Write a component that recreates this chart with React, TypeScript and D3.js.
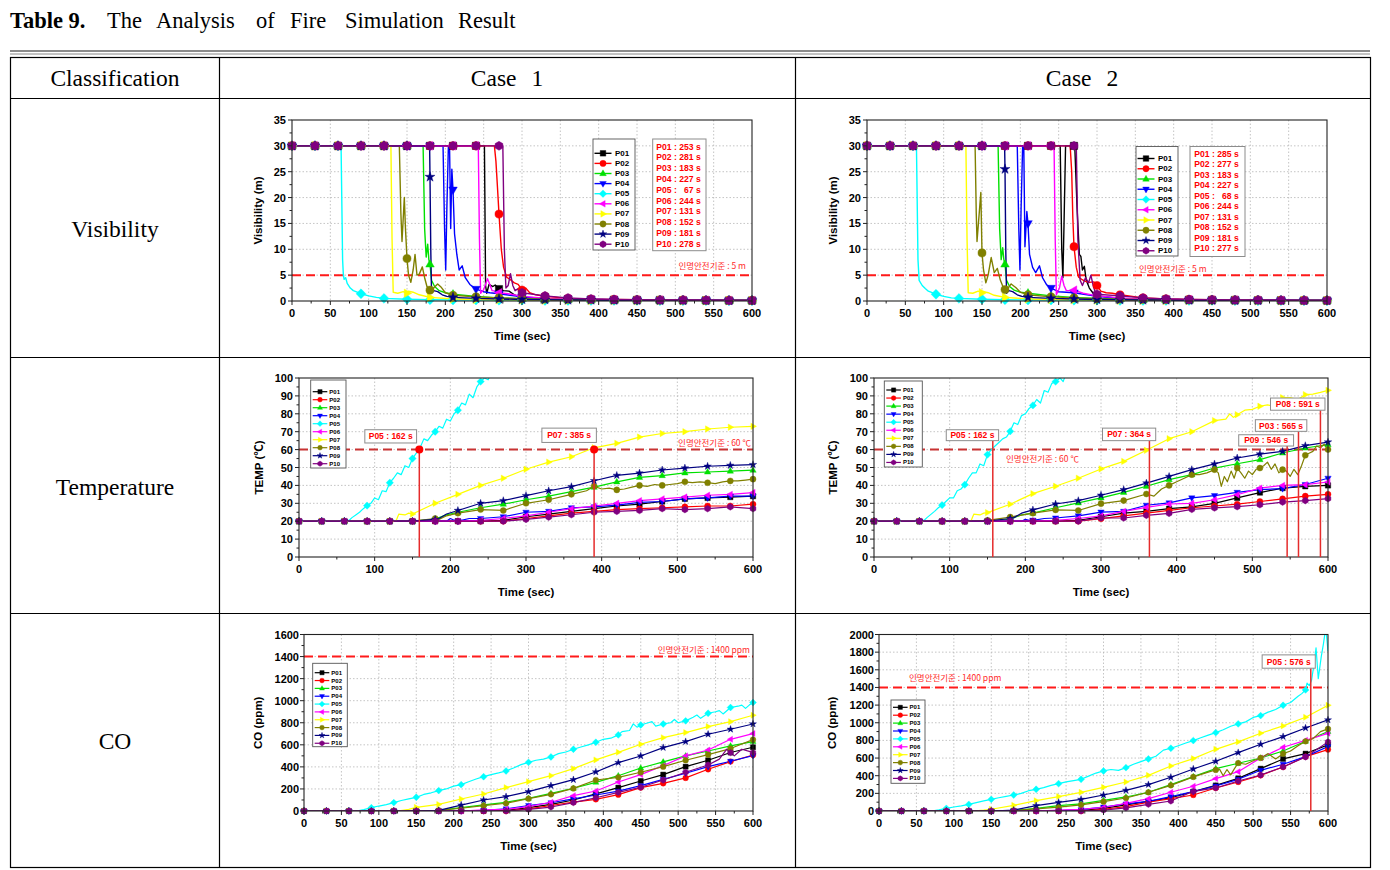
import React from 'react';
import * as d3 from 'd3';

// ---------- shared series definitions ----------
const SERIES_NAMES = ['P01', 'P02', 'P03', 'P04', 'P05', 'P06', 'P07', 'P08', 'P09', 'P10'];
const SERIES_COLORS = ['#000000', '#ff0000', '#00e000', '#0000ff', '#00ffff', '#ff00ff', '#ffff00', '#808000', '#000080', '#800080'];
const SERIES_SHAPES = ['square', 'circle', 'triUp', 'triDown', 'diamond', 'triLeft', 'triRight', 'circle', 'star', 'hexagon'];
const SAMPLE_TIMES = d3.range(0, 601, 30); // marker sample times (s)

// ---------- Visibility, Case 1 (m) : values at SAMPLE_TIMES ----------
const visCase1Base = [
  [30, 30, 30, 30, 30, 30, 30, 30, 30, 2.3, 0.7, 0.45, 0.35, 0.3, 0.25, 0.2, 0.2, 0.15, 0.15, 0.1, 0.1],
  [30, 30, 30, 30, 30, 30, 30, 30, 30, 16.8, 2.1, 0.9, 0.5, 0.35, 0.3, 0.25, 0.2, 0.2, 0.15, 0.15, 0.1],
  [30, 30, 30, 30, 30, 30, 7.1, 1.3, 0.9, 0.6, 0.45, 0.35, 0.3, 0.25, 0.2, 0.2, 0.15, 0.15, 0.1, 0.1, 0.1],
  [30, 30, 30, 30, 30, 30, 30, 21.5, 2.3, 1.4, 0.8, 0.5, 0.35, 0.3, 0.25, 0.2, 0.2, 0.15, 0.15, 0.1, 0.1],
  [30, 30, 30, 1.4, 0.5, 0.35, 0.25, 0.2, 0.2, 0.15, 0.15, 0.1, 0.1, 0.1, 0.1, 0.1, 0.05, 0.05, 0.05, 0.05, 0.05],
  [30, 30, 30, 30, 30, 30, 30, 30, 30, 1.6, 0.9, 0.55, 0.4, 0.3, 0.25, 0.2, 0.2, 0.15, 0.15, 0.1, 0.1],
  [30, 30, 30, 30, 30, 1.5, 0.7, 0.4, 0.3, 0.25, 0.2, 0.15, 0.15, 0.1, 0.1, 0.1, 0.1, 0.05, 0.05, 0.05, 0.05],
  [30, 30, 30, 30, 30, 8.2, 2.1, 1.1, 0.8, 0.6, 0.45, 0.35, 0.3, 0.25, 0.2, 0.2, 0.15, 0.15, 0.1, 0.1, 0.1],
  [30, 30, 30, 30, 30, 30, 24, 0.7, 0.5, 0.4, 0.3, 0.25, 0.2, 0.2, 0.15, 0.15, 0.1, 0.1, 0.1, 0.1, 0.1],
  [30, 30, 30, 30, 30, 30, 30, 30, 30, 30, 1.6, 1.0, 0.6, 0.4, 0.3, 0.25, 0.2, 0.2, 0.15, 0.1, 0.1],
];
// extra [time, value] readings between the marker samples
const visCase1Extra = [
  [[251, 30], [252.5, 3], [254, 1.5], [257, 3.2], [262, 2.8], [265, 3.1], [276, 2], [283, 1.9], [290, 1.2]],
  [[264, 30], [266, 27], [268, 22], [273, 10], [276, 6.5], [280, 4.6], [285, 4.1], [290, 3.5], [295, 3.2], [305, 2.5], [310, 1.6], [318, 1.2]],
  [[171, 30], [173, 14], [175, 8.5], [177, 11], [178.5, 8], [182, 4], [186, 2.8], [192, 2], [200, 1.6]],
  [[197, 30], [199, 14], [200.5, 6], [202, 18], [204, 30], [205.5, 30], [207, 14], [208.5, 25.5], [212, 13], [215, 9], [218, 6], [222, 6.8], [226, 4.5], [232, 3.2], [250, 1.8], [258, 1.6]],
  [[64, 30], [66, 8], [67, 5], [68, 4.2], [70, 4.5], [72, 3.4], [76, 2.5], [80, 2], [85, 1.7], [100, 1], [110, 0.7]],
  [[243, 30], [244.5, 12], [246, 1.5], [250, 2.2], [253, 3.5], [255, 4.3], [258, 3.2], [261, 2], [265, 1.9], [282, 1.4]],
  [[129, 30], [130.5, 12], [132, 1.7], [138, 1.5], [145, 1.8], [152, 1.9], [158, 1.7], [166, 1.2]],
  [[140, 30], [142, 17], [143.5, 11.5], [146.5, 20], [148, 14], [152, 5], [155, 3.6], [158, 6], [160.5, 9], [163, 5], [166, 5.2], [170, 6.6], [173, 4.5], [176, 2.8], [184, 2.4], [190, 3.3], [195, 2.6], [200, 1.6]],
  [[179.5, 30], [181, 10], [182, 1.6], [185, 2], [190, 1.8], [196, 1.2], [202, 0.9]],
  [[275, 30], [277, 10], [279, 2.5], [282, 3], [285, 5.3], [288, 3], [291, 2], [295, 2.4]],
];
const visCase1Result = ['P01 : 253 s', 'P02 : 281 s', 'P03 : 183 s', 'P04 : 227 s', 'P05 :   67 s', 'P06 : 244 s', 'P07 : 131 s', 'P08 : 152 s', 'P09 : 181 s', 'P10 : 278 s'];

// ---------- Visibility, Case 2 (m) ----------
const visCase2Base = [
  [30, 30, 30, 30, 30, 30, 30, 30, 30, 30, 1.0, 0.5, 0.35, 0.3, 0.25, 0.2, 0.2, 0.15, 0.15, 0.1, 0.1],
  [30, 30, 30, 30, 30, 30, 30, 30, 30, 10.5, 3.0, 1.2, 0.6, 0.4, 0.3, 0.25, 0.2, 0.2, 0.15, 0.15, 0.1],
  [30, 30, 30, 30, 30, 30, 7.1, 1.5, 1.0, 0.7, 0.5, 0.4, 0.3, 0.25, 0.2, 0.2, 0.15, 0.15, 0.1, 0.1, 0.1],
  [30, 30, 30, 30, 30, 30, 30, 15, 2.5, 1.6, 0.9, 0.5, 0.35, 0.3, 0.25, 0.2, 0.2, 0.15, 0.15, 0.1, 0.1],
  [30, 30, 30, 1.3, 0.5, 0.35, 0.25, 0.2, 0.2, 0.15, 0.15, 0.1, 0.1, 0.1, 0.1, 0.1, 0.05, 0.05, 0.05, 0.05, 0.05],
  [30, 30, 30, 30, 30, 30, 30, 30, 30, 2.1, 1.0, 0.6, 0.4, 0.3, 0.25, 0.2, 0.2, 0.15, 0.15, 0.1, 0.1],
  [30, 30, 30, 30, 30, 1.6, 0.7, 0.4, 0.3, 0.25, 0.2, 0.15, 0.15, 0.1, 0.1, 0.1, 0.1, 0.05, 0.05, 0.05, 0.05],
  [30, 30, 30, 30, 30, 9.3, 2.2, 1.2, 0.8, 0.6, 0.45, 0.35, 0.3, 0.25, 0.2, 0.2, 0.15, 0.15, 0.1, 0.1, 0.1],
  [30, 30, 30, 30, 30, 30, 25.5, 0.7, 0.5, 0.4, 0.3, 0.25, 0.2, 0.2, 0.15, 0.15, 0.1, 0.1, 0.1, 0.1, 0.1],
  [30, 30, 30, 30, 30, 30, 30, 30, 30, 30, 1.3, 1.0, 0.6, 0.4, 0.3, 0.25, 0.2, 0.2, 0.15, 0.1, 0.1],
];
const visCase2Extra = [
  [[252, 30], [254, 10], [255.5, 4.5], [257, 15], [259, 30], [271, 30], [274, 18], [277, 9], [279, 8.6], [281, 6], [283.5, 6.7], [286, 4], [290, 2.5], [295, 1.5]],
  [[265, 30], [267, 25], [268.5, 16], [273, 6.5], [276, 4.6], [280, 4.2], [285, 3.8], [290, 3.6], [296, 3.7], [305, 1.9], [312, 1.6], [320, 1.5]],
  [[171, 30], [173, 14], [175, 8], [177, 10.3], [178.5, 8], [182, 4], [186, 2.8], [192, 2.1], [200, 1.7]],
  [[196, 30], [198, 14], [199.5, 6], [201, 18], [203, 30], [204.5, 30], [206, 10.5], [208.5, 17.3], [212, 9], [216, 6.5], [220, 5.5], [225, 6.8], [229, 4.5], [234, 3.2], [250, 1.8], [260, 1.7]],
  [[64.5, 30], [66.5, 8], [68, 4], [72, 3], [76, 2.4], [80, 1.9], [85, 1.6], [100, 0.9], [110, 0.6]],
  [[244, 30], [245.5, 12], [247, 1.2], [251, 2.5], [254, 4.8], [257, 3], [260, 2], [265, 2], [282, 1.5]],
  [[129, 30], [130.5, 12], [132, 1.6], [138, 1.5], [145, 1.9], [152, 1.8], [158, 1.6], [166, 1.1]],
  [[141, 30], [142.5, 17], [143.5, 11.5], [148.5, 21], [152, 6], [155, 3.5], [158, 5], [162, 8.4], [166, 5.5], [170, 6.3], [174, 4], [178, 2.5], [184, 2.5], [188, 3.3], [194, 2.6], [200, 1.7]],
  [[179.5, 30], [181, 10], [182, 1.5], [185, 2], [190, 1.8], [196, 1.2], [202, 0.9]],
  [[273, 30], [275, 12], [278, 4], [281, 3], [285, 4.5], [289, 3.5], [292, 5], [295, 3], [297, 2]],
];
const visCase2Result = ['P01 : 285 s', 'P02 : 277 s', 'P03 : 183 s', 'P04 : 227 s', 'P05 :   68 s', 'P06 : 244 s', 'P07 : 131 s', 'P08 : 152 s', 'P09 : 181 s', 'P10 : 277 s'];

// ---------- Temperature, Case 1 (℃) ----------
const tempCase1Base = [
  [20, 20, 20, 20, 20, 20, 20, 20, 20, 20.5, 22.5, 24, 25.5, 27, 28.5, 29.5, 31, 32.5, 33, 33.5, 34],
  [20, 20, 20, 20, 20, 20, 20, 20, 20, 20, 21.5, 23, 24.5, 25.5, 26.5, 27, 27.5, 28, 28.5, 28.5, 29.5],
  [20, 20, 20, 20, 20, 20, 21, 25, 27.5, 29.5, 32, 34, 36.5, 39, 42, 44.5, 45.5, 47, 47.5, 48, 48.5],
  [20, 20, 20, 20, 20, 20, 20, 20, 21.5, 22.5, 25, 25.5, 27.5, 28, 29, 30.5, 31, 32.5, 33, 34, 34],
  [20, 20, 20, 28.7, 41.5, 55, 70, 82, 98, 112],
  [20, 20, 20, 20, 20, 20, 20, 20, 20.5, 21.5, 23, 25, 27, 28.5, 30, 31.5, 32.5, 33.5, 34.5, 35, 36],
  [20, 20, 20, 20, 20, 24, 30, 35, 40, 44, 49, 53, 56, 61, 63.5, 67, 69, 70, 71.5, 72.5, 73],
  [20, 20, 20, 20, 20, 20, 21.5, 24.5, 26.5, 26, 30, 32, 35, 39.5, 37.5, 40, 40, 42, 41.5, 42.5, 43.5],
  [20, 20, 20, 20, 20, 20, 21, 26, 30, 31.5, 34.3, 37, 39.3, 42.6, 45.6, 46.9, 48.6, 49.7, 50.7, 51.2, 51.6],
  [20, 20, 20, 20, 20, 20, 20, 20, 20, 20, 21, 22.3, 23.6, 25, 25.5, 26, 27, 26.5, 27, 28, 27],
];
const tempCase1Extra = [
  [],
  [],
  [[185, 22], [195, 23.5]],
  [[195, 20], [200, 21.5], [205, 20.5], [225, 21.5]],
  [[65, 20], [70, 22], [75, 23.5], [80, 25], [85, 27], [95, 30], [100, 33], [105, 32], [110, 37], [115, 36.5], [125, 44], [130, 47], [135, 46], [140, 51], [145, 50], [155, 58], [160, 61], [165, 66], [170, 65], [175, 68], [185, 73], [190, 72], [195, 77], [200, 76], [205, 80], [215, 86], [220, 85], [225, 91], [230, 89], [235, 95], [245, 100], [250, 99], [255, 104]],
  [],
  [[128, 20], [132, 24], [140, 23.5], [145, 24.5]],
  [[185, 21], [195, 23], [380, 37], [400, 38], [410, 38.5], [430, 38], [440, 39], [460, 39.5], [470, 40.5], [490, 40.5], [500, 41], [520, 41.5], [530, 42], [550, 41], [560, 42], [580, 42.5], [590, 43]],
  [[185, 21.5], [195, 24]],
  [],
];

// ---------- Temperature, Case 2 (℃) ----------
const tempCase2Base = [
  [20, 20, 20, 20, 20, 20, 20, 20, 20, 20.5, 22.5, 24.5, 25.5, 27, 28, 30, 33, 36, 38.5, 39.5, 40],
  [20, 20, 20, 20, 20, 20, 20, 20, 20, 20, 21.4, 23, 24.5, 26, 27.5, 28.5, 29.5, 31, 32.5, 34, 35],
  [20, 20, 20, 20, 20, 20, 21, 24.5, 27.5, 30.2, 33, 36.1, 39.5, 43.2, 46, 49.7, 52.1, 54.4, 58.1, 60.9, 62.8],
  [20, 20, 20, 20, 20, 20, 20, 20.5, 21.8, 23, 25.1, 25.5, 28.9, 30.2, 33, 34.3, 36.1, 37.6, 38.2, 40.5, 44],
  [20, 20, 20, 29, 40.4, 57.2, 70.2, 84.7, 98, 112],
  [20, 20, 20, 20, 20, 20, 20, 20, 20.5, 21.5, 23, 25.5, 27.7, 29.6, 30, 32, 34.8, 38.5, 40, 40.4, 41.9],
  [20, 20, 20, 20, 20, 24.8, 29.5, 35.4, 39.5, 44, 49.2, 53.4, 59.6, 66.1, 70, 76.2, 79.5, 84.2, 89, 90.7, 93.1],
  [20, 20, 20, 20, 20, 20.5, 22.3, 24.5, 26.3, 26, 29.8, 31.5, 35.2, 40, 46, 48.8, 49.7, 49.7, 48.8, 56.8, 60],
  [20, 20, 20, 20, 20, 20, 21.5, 26.3, 29.6, 31.5, 34.5, 37.6, 41.3, 45, 48.8, 52, 55.3, 57.5, 59, 62.2, 64.2],
  [20, 20, 20, 20, 20, 20, 20, 20, 20, 20, 21.8, 21.8, 23.3, 24.4, 26.6, 27.4, 28.1, 29.2, 30.7, 31.5, 32.6],
];
const tempCase2Extra = [
  [],
  [],
  [[185, 22], [195, 23.5]],
  [[195, 20], [200, 21], [205, 20.5], [225, 21.5]],
  [[65, 20], [70, 22], [80, 25.5], [85, 27.5], [95, 31], [100, 33], [105, 33], [110, 37], [115, 38], [125, 44], [130, 47], [135, 47], [140, 52], [145, 51], [155, 60], [160, 62], [165, 64], [170, 66], [175, 67], [185, 75], [190, 74], [195, 79], [200, 80], [205, 83], [215, 88], [220, 86], [225, 93], [230, 92], [235, 97], [246, 100], [250, 98], [255, 104]],
  [],
  [[128, 20], [132, 24], [140, 23.5], [145, 24.5], [465, 77], [470, 80], [475, 78], [490, 82], [500, 82.5], [520, 85], [530, 84], [550, 89], [560, 88], [580, 91], [590, 92]],
  [[370, 34], [375, 36], [380, 38], [400, 42], [410, 44], [430, 46], [440, 47], [455, 47], [459, 39.5], [463, 45], [467, 42], [472, 48], [476, 44], [485, 47], [490, 44], [495, 48], [500, 46], [505, 49], [515, 51], [520, 53], [525, 49], [530, 52], [535, 47], [545, 48], [550, 45], [555, 49], [560, 46], [565, 51], [575, 58], [580, 59], [585, 62], [590, 61], [595, 63]],
  [[185, 22], [195, 24.5]],
  [],
];

// ---------- CO, Case 1 (ppm) ----------
const coCase1Base = [
  [0, 0, 0, 0, 0, 0, 0, 0, 0, 5, 30, 60, 100, 155, 212, 272, 330, 402, 460, 530, 578],
  [0, 0, 0, 0, 0, 0, 0, 0, 0, 0, 20, 50, 80, 106, 148, 212, 251, 300, 378, 448, 508],
  [0, 0, 0, 0, 0, 0, 5, 30, 55, 79, 115, 160, 206, 260, 320, 390, 445, 500, 544, 590, 629],
  [0, 0, 0, 0, 0, 0, 0, 0, 5, 20, 50, 75, 110, 145, 180, 230, 287, 342, 402, 451, 502],
  [0, 0, 0, 30, 76, 124, 185, 239, 311, 363, 441, 490, 560, 623, 690, 780, 789, 817, 886, 938, 983],
  [0, 0, 0, 0, 0, 0, 0, 0, 10, 15, 40, 79, 139, 181, 263, 330, 411, 500, 553, 650, 702],
  [0, 0, 0, 0, 0, 33, 60, 109, 154, 212, 266, 320, 384, 463, 532, 605, 665, 711, 765, 810, 868],
  [0, 0, 0, 0, 0, 0, 5, 25, 48, 70, 112, 151, 205, 281, 305, 351, 402, 460, 511, 566, 647],
  [0, 0, 0, 0, 0, 0, 5, 54, 100, 130, 175, 230, 284, 354, 439, 499, 575, 629, 696, 741, 789],
  [0, 0, 0, 0, 0, 0, 0, 0, 0, 0, 15, 36, 76, 120, 169, 215, 281, 351, 417, 529, 529],
];
const coCase1Extra = [
  [],
  [],
  [],
  [],
  [[70, 0], [80, 12], [100, 45], [110, 58], [130, 95], [140, 110], [160, 150], [170, 165], [190, 200], [200, 225], [220, 265], [230, 290], [250, 330], [260, 345], [280, 390], [290, 420], [310, 460], [320, 470], [340, 520], [350, 535], [370, 580], [380, 600], [400, 650], [410, 660], [425, 720], [435, 730], [440, 790], [445, 760], [460, 800], [465, 810], [470, 770], [490, 800], [495, 830], [500, 800], [520, 850], [525, 870], [530, 840], [550, 900], [555, 910], [560, 880], [580, 950], [585, 960], [590, 930], [595, 960]],
  [],
  [[125, 0], [140, 15]],
  [],
  [],
  [[555, 470], [565, 560], [575, 500], [585, 560], [595, 540]],
];

// ---------- CO, Case 2 (ppm) ----------
const coCase2Base = [
  [0, 0, 0, 0, 0, 0, 0, 0, 0, 5, 30, 70, 110, 150, 220, 290, 370, 480, 590, 650, 750],
  [0, 0, 0, 0, 0, 0, 0, 0, 0, 0, 20, 50, 100, 140, 181, 261, 329, 404, 499, 616, 696],
  [0, 0, 0, 0, 0, 0, 5, 30, 60, 80, 120, 159, 212, 299, 389, 480, 541, 601, 680, 790, 900],
  [0, 0, 0, 0, 0, 0, 0, 0, 5, 15, 45, 80, 110, 163, 220, 283, 359, 461, 530, 616, 730],
  [0, 0, 0, 30, 75, 132, 181, 246, 310, 359, 454, 491, 590, 711, 798, 888, 987, 1081, 1198, 1372],
  [0, 0, 0, 0, 0, 0, 0, 0, 10, 20, 40, 87, 140, 212, 280, 367, 446, 601, 722, 801, 881],
  [0, 0, 0, 0, 0, 20, 64, 117, 163, 212, 268, 329, 404, 510, 594, 699, 783, 881, 964, 1062, 1198],
  [0, 0, 0, 0, 0, 0, 5, 25, 45, 70, 106, 147, 212, 291, 386, 465, 544, 601, 650, 790, 930],
  [0, 0, 0, 0, 0, 0, 10, 60, 98, 132, 181, 234, 299, 382, 476, 563, 662, 756, 843, 941, 1032],
  [0, 0, 0, 0, 0, 0, 0, 0, 0, 0, 10, 35, 76, 113, 223, 261, 340, 408, 499, 612, 783],
];
const coCase2Extra = [
  [],
  [],
  [],
  [],
  [[70, 0], [80, 12], [100, 45], [110, 58], [130, 95], [140, 115], [160, 150], [170, 165], [190, 200], [200, 230], [220, 265], [230, 290], [250, 330], [260, 345], [280, 395], [290, 430], [310, 470], [320, 460], [340, 530], [350, 560], [370, 620], [380, 690], [400, 740], [410, 770], [430, 830], [440, 860], [460, 920], [470, 960], [490, 1010], [500, 1060], [520, 1120], [530, 1150], [550, 1230], [560, 1300], [565, 1330], [572, 1450], [575, 1420], [578, 1480], [582, 1700], [584, 1850], [587, 1500], [591, 1750], [594, 1900], [597, 2080], [600, 1810]],
  [],
  [[125, 0], [140, 10]],
  [[440, 440], [455, 475], [460, 400], [465, 470], [470, 410], [475, 480], [490, 530], [500, 570], [520, 650], [530, 590], [550, 680], [560, 740], [580, 820], [590, 900]],
  [],
  [],
];

// ---------- annotations ----------
const tempCase1Notes = [
  { label: 'P05 : 162 s', t: 159, box: [87, 155.4, 71.1, 63.7], from: 60, dot: true },
  { label: 'P07 : 385 s', t: 390, box: [321, 393, 72, 64], from: 60, dot: true },
];
const tempCase2Notes = [
  { label: 'P05 : 162 s', t: 157, box: [95.5, 164.7, 71.1, 65] },
  { label: 'P07 : 364 s', t: 364, box: [302, 372.3, 72, 65] },
  { label: 'P09 : 546 s', t: 546, box: [482, 554.5, 68.3, 62] },
  { label: 'P03 : 565 s', t: 561, box: [504, 572, 76.7, 70.2] },
  { label: 'P08 : 591 s', t: 590, box: [524, 596, 88.8, 82] },
];
const coCase2Notes = [{ label: 'P05 : 576 s', t: 577, box: [512, 583, 1769, 1618] }];

// ---------- fonts ----------
const SANS = "'Liberation Sans', Arial, 'Noto Sans CJK KR', sans-serif";
const KSANS = "'Noto Sans CJK KR', 'Liberation Sans', sans-serif";
const SERIF = "'Liberation Serif', 'Times New Roman', serif";

function markerPath(shape: string, r: number): string {
  switch (shape) {
    case 'square': {
      const s = r * 0.85;
      return `M${-s},${-s}h${2 * s}v${2 * s}h${-2 * s}Z`;
    }
    case 'circle':
      return d3.symbol(d3.symbolCircle, Math.PI * r * r * 0.9)() as string;
    case 'triUp':
      return `M0,${-r * 1.1}L${r},${r * 0.65}L${-r},${r * 0.65}Z`;
    case 'triDown':
      return `M0,${r * 1.1}L${r},${-r * 0.65}L${-r},${-r * 0.65}Z`;
    case 'triLeft':
      return `M${-r * 1.1},0L${r * 0.65},${-r}L${r * 0.65},${r}Z`;
    case 'triRight':
      return `M${r * 1.1},0L${-r * 0.65},${-r}L${-r * 0.65},${r}Z`;
    case 'diamond':
      return `M0,${-r * 1.15}L${r * 1.15},0L0,${r * 1.15}L${-r * 1.15},0Z`;
    case 'star':
      return d3.symbol(d3.symbolStar, r * r * 1.7)() as string;
    case 'hexagon': {
      const pts = d3.range(6).map((i) => {
        const a = (Math.PI / 3) * i + Math.PI / 6;
        return `${(Math.cos(a) * r * 1.05).toFixed(2)},${(Math.sin(a) * r * 1.05).toFixed(2)}`;
      });
      return `M${pts.join('L')}Z`;
    }
    default:
      return '';
  }
}

function Marker({ i, x, y, r }: { i: number; x: number; y: number; r: number }) {
  return (
    <path
      d={markerPath(SERIES_SHAPES[i], r)}
      transform={`translate(${x},${y})`}
      fill={SERIES_COLORS[i]}
      stroke={SERIES_COLORS[i]}
      strokeWidth={0.4}
    />
  );
}

function Panel({ cfg }: { cfg: any }) {
  const { id, left, top, width, height, yMax } = cfg;
  const x = d3.scaleLinear().domain([0, 600]).range([left, left + width]);
  const y = d3.scaleLinear().domain([0, yMax]).range([top + height, top]);
  const line = d3
    .line<number[]>()
    .x((d) => x(d[0]))
    .y((d) => y(d[1]));
  const xMajor = x.ticks(600 / cfg.xStep).filter((v) => v % cfg.xStep === 0);
  const xMinor = d3.range(0, 600.001, cfg.xMinor).filter((v) => v % cfg.xStep !== 0);
  const yMajor = d3.range(0, yMax + 1e-6, cfg.yStep);
  const yMinor = d3.range(0, yMax + 1e-6, cfg.yMinor).filter((v) => Math.abs(v / cfg.yStep - Math.round(v / cfg.yStep)) > 1e-6);
  const bottom = top + height;

  const series = cfg.base.map((base: number[], i: number) => {
    const samples = base.map((v, k) => [SAMPLE_TIMES[k], v]);
    const pts = samples.concat(cfg.extra[i]).sort((a: number[], b: number[]) => a[0] - b[0]);
    return { samples, pts };
  });

  const lg = cfg.legend;
  return (
    <g>
      <defs>
        <clipPath id={`clip-${id}`}>
          <rect x={left} y={top} width={width} height={height} />
        </clipPath>
      </defs>
      {/* grid */}
      {xMajor.filter((v) => v > 0 && v < 600).map((v) => (
        <line key={`gx${v}`} x1={x(v)} x2={x(v)} y1={top} y2={bottom} stroke="#b5b5b5" strokeWidth={0.8} strokeDasharray="1.5,2" />
      ))}
      {yMajor.filter((v) => v > 0 && v < yMax).map((v) => (
        <line key={`gy${v}`} x1={left} x2={left + width} y1={y(v)} y2={y(v)} stroke="#b5b5b5" strokeWidth={0.8} strokeDasharray="1.5,2" />
      ))}
      {/* threshold */}
      <line x1={left} x2={left + width} y1={y(cfg.threshold)} y2={y(cfg.threshold)} stroke={cfg.thrColor} strokeWidth={2} strokeDasharray="9,5" />
      {/* series */}
      <g clipPath={`url(#clip-${id})`}>
        {series.map((s: any, i: number) => (
          <path key={`l${i}`} d={line(s.pts) as string} fill="none" stroke={SERIES_COLORS[i]} strokeWidth={cfg.lineW} strokeLinejoin="round" />
        ))}
      </g>
      {series.map((s: any, i: number) => (
        <g key={`m${i}`}>
          {s.samples
            .filter((d: number[]) => d[1] <= yMax)
            .map((d: number[], k: number) => (
              <Marker key={k} i={i} x={x(d[0])} y={y(d[1])} r={cfg.markerR} />
            ))}
        </g>
      ))}
      {/* frame */}
      <rect x={left} y={top} width={width} height={height} fill="none" stroke="#222" strokeWidth={1.1} />
      {/* ticks */}
      {xMajor.map((v) => (
        <g key={`tx${v}`}>
          <line x1={x(v)} x2={x(v)} y1={bottom} y2={bottom + 4} stroke="#222" strokeWidth={1} />
          <text x={x(v)} y={bottom + 16} textAnchor="middle" fontFamily={SANS} fontWeight="bold" fontSize={11}>
            {v}
          </text>
        </g>
      ))}
      {xMinor.map((v) => (
        <line key={`txm${v}`} x1={x(v)} x2={x(v)} y1={bottom} y2={bottom + 2.5} stroke="#222" strokeWidth={1} />
      ))}
      {yMajor.map((v) => (
        <g key={`ty${v}`}>
          <line x1={left - 4} x2={left} y1={y(v)} y2={y(v)} stroke="#222" strokeWidth={1} />
          <text x={left - cfg.yLabelGap} y={y(v) + 4} textAnchor="end" fontFamily={SANS} fontWeight="bold" fontSize={11}>
            {v}
          </text>
        </g>
      ))}
      {yMinor.map((v) => (
        <line key={`tym${v}`} x1={left - 2.5} x2={left} y1={y(v)} y2={y(v)} stroke="#222" strokeWidth={1} />
      ))}
      {/* axis titles */}
      <text x={left + width / 2} y={bottom + 39} textAnchor="middle" fontFamily={SANS} fontWeight="bold" fontSize={11.5}>
        Time (sec)
      </text>
      <text
        transform={`translate(${left - cfg.yTitleOffset},${top + height / 2}) rotate(-90)`}
        textAnchor="middle"
        dominantBaseline="central"
        fontFamily={SANS}
        fontWeight="bold"
        fontSize={11.5}
      >
        {cfg.yTitle}
      </text>
      {/* legend */}
      <rect x={lg.x} y={lg.y} width={lg.w} height={lg.h} fill="#fff" stroke="#555" strokeWidth={0.9} />
      {SERIES_NAMES.map((name, i) => {
        const ly = lg.y0 + i * lg.dy;
        return (
          <g key={`lg${i}`}>
            <line x1={lg.lx0} x2={lg.lx1} y1={ly} y2={ly} stroke={SERIES_COLORS[i]} strokeWidth={cfg.lineW} />
            <Marker i={i} x={(lg.lx0 + lg.lx1) / 2} y={ly} r={lg.r} />
            <text x={lg.tx} y={ly} dominantBaseline="central" fontFamily={SANS} fontWeight="bold" fontSize={lg.font}>
              {name}
            </text>
          </g>
        );
      })}
      {/* annotations */}
      {(cfg.notes || []).map((n: any, k: number) => {
        const [t0, t1, vTop, vBot] = n.box;
        const from = n.from !== undefined ? n.from : vBot;
        return (
          <g key={`n${k}`}>
            <line x1={x(n.t)} x2={x(n.t)} y1={y(from)} y2={bottom} stroke="#e52b2b" strokeWidth={1.5} />
            {n.dot && <circle cx={x(n.t)} cy={y(from)} r={4} fill="#ff0000" />}
            <rect x={x(t0)} y={y(vTop)} width={x(t1) - x(t0)} height={y(vBot) - y(vTop)} fill="#fff" stroke="#8c8c8c" strokeWidth={1} />
            <text
              x={(x(t0) + x(t1)) / 2}
              y={(y(vTop) + y(vBot)) / 2}
              textAnchor="middle"
              dominantBaseline="central"
              fontFamily={SANS}
              fontWeight="bold"
              fontSize={8.5}
              fill="#ff0000"
            >
              {n.label}
            </text>
          </g>
        );
      })}
      {/* result list */}
      {cfg.result && (
        <g>
          <rect x={cfg.result.x} y={cfg.result.y} width={cfg.result.w} height={cfg.result.h} fill="#fff" stroke="#8c8c8c" strokeWidth={1} />
          {cfg.result.lines.map((s: string, k: number) => (
            <text
              key={k}
              x={cfg.result.tx}
              y={cfg.result.y0 + k * cfg.result.dy}
              dominantBaseline="central"
              fontFamily={SANS}
              fontWeight="bold"
              fontSize={8.6}
              fill="#ff0000"
              style={{ whiteSpace: 'pre' }}
            >
              {s}
            </text>
          ))}
        </g>
      )}
      {/* threshold label */}
      <text x={cfg.thrLabel.x} y={cfg.thrLabel.y} textAnchor={cfg.thrLabel.anchor} dominantBaseline="central" fontFamily={KSANS} fontSize={8.5} fill="#ff2a2a">
        {cfg.thrLabel.text}
      </text>
    </g>
  );
}

const PANELS = [
  {
    id: 'vis1', left: 292, top: 120, width: 460, height: 181, yMax: 35, yStep: 5, yMinor: 2.5, xStep: 50, xMinor: 25,
    yTitle: 'Visibility (m)', yTitleOffset: 34, yLabelGap: 6, base: visCase1Base, extra: visCase1Extra,
    threshold: 5, thrColor: '#ff1a1a', markerR: 4.3, lineW: 1.4,
    thrLabel: { text: '인명안전기준 : 5 m', x: 746, y: 265, anchor: 'end' },
    legend: { x: 593, y: 139, w: 42, h: 111, y0: 153.3, dy: 10.1, lx0: 594.5, lx1: 611.5, tx: 615, font: 8, r: 3.3 },
    result: { x: 652.7, y: 139, w: 53.3, h: 111.7, tx: 656.3, y0: 146.5, dy: 10.8, lines: visCase1Result },
  },
  {
    id: 'vis2', left: 867, top: 120, width: 460, height: 181, yMax: 35, yStep: 5, yMinor: 2.5, xStep: 50, xMinor: 25,
    yTitle: 'Visibility (m)', yTitleOffset: 34, yLabelGap: 6, base: visCase2Base, extra: visCase2Extra,
    threshold: 5, thrColor: '#ff1a1a', markerR: 4.3, lineW: 1.4,
    thrLabel: { text: '인명안전기준 : 5 m', x: 1139, y: 267.5, anchor: 'start' },
    legend: { x: 1136, y: 146.5, w: 42, h: 109.5, y0: 158.5, dy: 10.25, lx0: 1137.5, lx1: 1154.5, tx: 1158, font: 8, r: 3.3 },
    result: { x: 1190, y: 146.5, w: 55, h: 110, tx: 1194.3, y0: 153.5, dy: 10.5, lines: visCase2Result },
  },
  {
    id: 'temp1', left: 299, top: 378, width: 454, height: 179, yMax: 100, yStep: 10, yMinor: 5, xStep: 100, xMinor: 50,
    yTitle: 'TEMP (℃)', yTitleOffset: 40, yLabelGap: 6, base: tempCase1Base, extra: tempCase1Extra,
    threshold: 60, thrColor: '#c83232', markerR: 3.2, lineW: 1.2,
    thrLabel: { text: '인명안전기준 : 60 ℃', x: 751, y: 441.7, anchor: 'end' },
    legend: { x: 310.7, y: 380, w: 35.3, h: 88, y0: 391.7, dy: 8, lx0: 312.7, lx1: 327.3, tx: 329.3, font: 6, r: 2.5 },
    notes: tempCase1Notes,
  },
  {
    id: 'temp2', left: 874, top: 378, width: 454, height: 179, yMax: 100, yStep: 10, yMinor: 5, xStep: 100, xMinor: 50,
    yTitle: 'TEMP (℃)', yTitleOffset: 41, yLabelGap: 6, base: tempCase2Base, extra: tempCase2Extra,
    threshold: 60, thrColor: '#c83232', markerR: 3.2, lineW: 1.2,
    thrLabel: { text: '인명안전기준 : 60 ℃', x: 1006, y: 457.6, anchor: 'start' },
    legend: { x: 884.3, y: 381, w: 38, h: 86, y0: 390, dy: 8.05, lx0: 886.3, lx1: 900.9, tx: 903, font: 6, r: 2.5 },
    notes: tempCase2Notes,
  },
  {
    id: 'co1', left: 304, top: 634.5, width: 449, height: 176.5, yMax: 1600, yStep: 200, yMinor: 100, xStep: 50, xMinor: 25,
    yTitle: 'CO (ppm)', yTitleOffset: 46, yLabelGap: 5, base: coCase1Base, extra: coCase1Extra,
    threshold: 1400, thrColor: '#ff1a1a', markerR: 3, lineW: 1.2,
    thrLabel: { text: '인명안전기준 : 1400 ppm', x: 750, y: 649, anchor: 'end' },
    legend: { x: 312.7, y: 663.3, w: 34.6, h: 83.4, y0: 672.7, dy: 7.84, lx0: 314.7, lx1: 329.3, tx: 331.3, font: 6, r: 2.5 },
  },
  {
    id: 'co2', left: 879, top: 634.5, width: 449, height: 176.5, yMax: 2000, yStep: 200, yMinor: 100, xStep: 50, xMinor: 25,
    yTitle: 'CO (ppm)', yTitleOffset: 47, yLabelGap: 5, base: coCase2Base, extra: coCase2Extra,
    threshold: 1400, thrColor: '#ff1a1a', markerR: 3, lineW: 1.2,
    thrLabel: { text: '인명안전기준 : 1400 ppm', x: 909, y: 677.3, anchor: 'start' },
    legend: { x: 891, y: 700, w: 34, h: 83.3, y0: 707.3, dy: 7.9, lx0: 893, lx1: 907.6, tx: 909.6, font: 6, r: 2.5 },
    notes: coCase2Notes,
  },
];

const TITLE_WORDS = [
  { text: 'Table 9.', x: 10, bold: true },
  { text: 'The', x: 107 },
  { text: 'Analysis', x: 156 },
  { text: 'of', x: 256 },
  { text: 'Fire', x: 290 },
  { text: 'Simulation', x: 345 },
  { text: 'Result', x: 458 },
];

const ROW_LABELS = [
  { text: 'Visibility', y: 237 },
  { text: 'Temperature', y: 495 },
  { text: 'CO', y: 749 },
];

export default function App() {
  const tableLeft = 10;
  const tableRight = 1370;
  const colX = [219, 795];
  const rowY = [57.5, 98.5, 357.5, 613.5, 867.5];
  return (
    <div style={{ position: 'absolute', left: 0, top: 0 }}>
      <svg width={1390} height={870} style={{ display: 'block', background: '#fff' }}>
        {/* title */}
        {TITLE_WORDS.map((w, i) => (
          <text key={i} x={w.x} y={28} fontFamily={SERIF} fontSize={22.5} fontWeight={w.bold ? 'bold' : 'normal'}>
            {w.text}
          </text>
        ))}
        <line x1={tableLeft} x2={tableRight} y1={51} y2={51} stroke="#666" strokeWidth={1.4} />
        <line x1={tableLeft} x2={tableRight} y1={54} y2={54} stroke="#888" strokeWidth={1} />
        {/* table grid */}
        <rect x={tableLeft + 0.5} y={rowY[0]} width={tableRight - tableLeft} height={rowY[4] - rowY[0]} fill="none" stroke="#000" strokeWidth={1.2} />
        {rowY.slice(1, 4).map((yy, i) => (
          <line key={i} x1={tableLeft} x2={tableRight} y1={yy} y2={yy} stroke="#000" strokeWidth={1.2} />
        ))}
        {colX.map((xx, i) => (
          <line key={i} x1={xx + 0.5} x2={xx + 0.5} y1={rowY[0]} y2={rowY[4]} stroke="#000" strokeWidth={1.2} />
        ))}
        {/* headers */}
        <text x={115} y={86} textAnchor="middle" fontFamily={SERIF} fontSize={23.5}>
          Classification
        </text>
        <text x={507} y={86} textAnchor="middle" fontFamily={SERIF} fontSize={23.5} wordSpacing={9}>
          Case 1
        </text>
        <text x={1082} y={86} textAnchor="middle" fontFamily={SERIF} fontSize={23.5} wordSpacing={9}>
          Case 2
        </text>
        {ROW_LABELS.map((r, i) => (
          <text key={i} x={115} y={r.y} textAnchor="middle" fontFamily={SERIF} fontSize={23.5}>
            {r.text}
          </text>
        ))}
        {PANELS.map((p) => (
          <Panel key={p.id} cfg={p} />
        ))}
      </svg>
    </div>
  );
}
